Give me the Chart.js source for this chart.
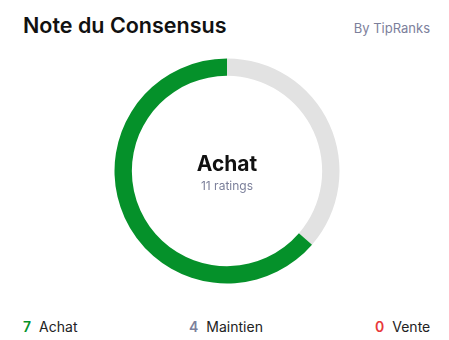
<!DOCTYPE html>
<html>
<head>
<meta charset="utf-8">
<script src="https://cdn.jsdelivr.net/npm/chart.js@4"></script>
<style>
  html, body { margin: 0; padding: 0; background: #fff; }
  body { width: 449px; height: 340px; position: relative; overflow: hidden; font-family: Inter, "Noto Sans", sans-serif; }
  .title { position: absolute; left: 23px; top: 12px; font-size: 21.5px; font-weight: 600; color: #111; }
  .by { position: absolute; right: 19px; top: 20px; font-size: 13px; color: #7c809b; }
  #chartBox { position: absolute; left: 107px; top: 51px; width: 240px; height: 240px; }
  .center { position: absolute; left: 107px; top: 51px; width: 240px; text-align: center; }
  .center .main { position: absolute; left: 0; right: 0; top: 100px; font-size: 21px; font-weight: 700; color: #111; }
  .center .sub { position: absolute; left: 0; right: 0; top: 127px; font-size: 12px; color: #7c809b; }
  .legend { position: absolute; top: 318px; font-size: 14px; color: #222; }
  .legend b { font-weight: 600; margin-right: 8px; }
</style>
</head>
<body>
<div class="title">Note du Consensus</div>
<div class="by">By TipRanks</div>
<div id="chartBox"><canvas id="consensusChart" width="240" height="240"></canvas></div>
<div class="center">
  <div class="main" id="centerLabel"></div>
  <div class="sub" id="centerSub"></div>
</div>
<div id="legend"></div>
<script>
// --- DONNÉES ---
const categories = ['Achat', 'Maintien', 'Vente'];
const counts = [7, 4, 0];
const colors = ['#05912a', '#e2e2e2', '#e8393a'];
const legendColors = ['#05912a', '#7c809b', '#e8393a'];
const legendLeft = [23, 189, 375];
const consensus = 'Achat';

document.addEventListener('DOMContentLoaded', () => {
  const total = counts.reduce((a, b) => a + b, 0);

  // l'anneau part du haut dans le sens horaire : on inverse pour avoir le vert à gauche
  const chartLabels = [...categories].reverse();
  const chartData = [...counts].reverse();
  const chartColors = [...colors].reverse();

  new Chart(document.getElementById('consensusChart').getContext('2d'), {
    type: 'doughnut',
    data: {
      labels: chartLabels,
      datasets: [{
        data: chartData,
        backgroundColor: chartColors,
        borderWidth: 0,
        radius: 112.5,
        cutout: 101.5
      }]
    },
    options: {
      responsive: false,
      animation: false,
      layout: { padding: 0 },
      plugins: { legend: { display: false }, tooltip: { enabled: false } }
    }
  });

  document.getElementById('centerLabel').textContent = consensus;
  document.getElementById('centerSub').textContent = `${total} ratings`;

  document.getElementById('legend').innerHTML = categories.map((c, i) => `
    <div class="legend" style="left:${legendLeft[i]}px"><b style="color:${legendColors[i]}">${counts[i]}</b>${c}</div>
  `).join('');
});
</script>
</body>
</html>
